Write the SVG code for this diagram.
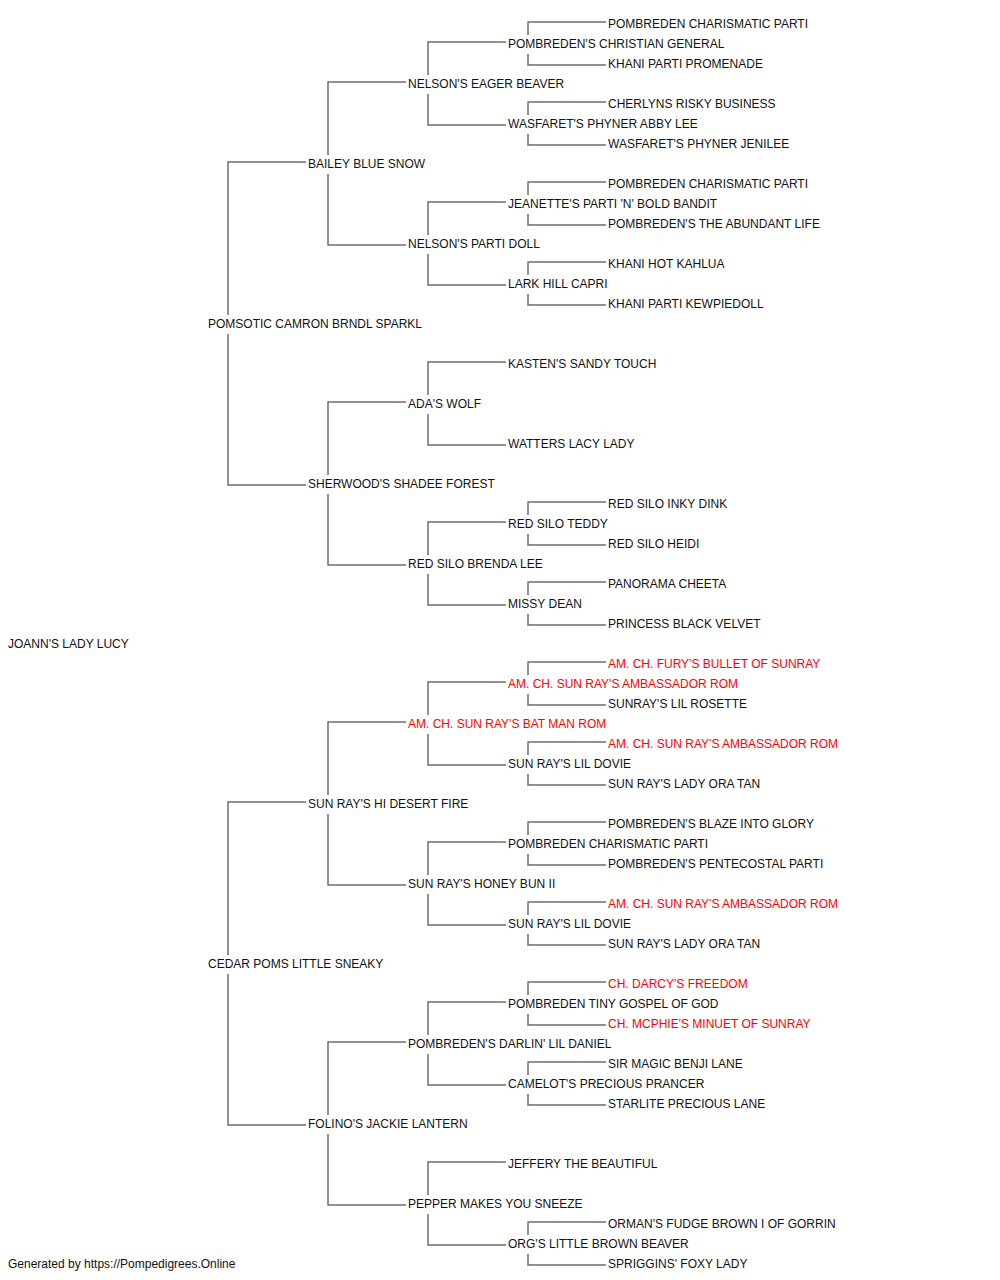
<svg xmlns="http://www.w3.org/2000/svg" width="1000" height="1280" viewBox="0 0 1000 1280">
<style>
text{font-family:"Liberation Sans",Arial,sans-serif;font-size:12px;fill:#111}
text.ch{fill:#ff0000}
.c path{fill:none;stroke:#6e6e6e;stroke-width:1.5}
</style>
<rect width="1000" height="1280" fill="#fff"/>
<g class="c" id="connectors">
<path d="M228 315V162H306M228 334V485H306"/>
<path d="M228 955V802H306M228 974V1125H306"/>
<path d="M328 155V82H406M328 174V245H406"/>
<path d="M328 475V402H406M328 494V565H406"/>
<path d="M328 795V722H406M328 814V885H406"/>
<path d="M328 1115V1042H406M328 1134V1205H406"/>
<path d="M428 75V42H506M428 94V125H506"/>
<path d="M428 235V202H506M428 254V285H506"/>
<path d="M428 395V362H506M428 414V445H506"/>
<path d="M428 555V522H506M428 574V605H506"/>
<path d="M428 715V682H506M428 734V765H506"/>
<path d="M428 875V842H506M428 894V925H506"/>
<path d="M428 1035V1002H506M428 1054V1085H506"/>
<path d="M428 1195V1162H506M428 1214V1245H506"/>
<path d="M528 35V22H606M528 54V65H606"/>
<path d="M528 115V102H606M528 134V145H606"/>
<path d="M528 195V182H606M528 214V225H606"/>
<path d="M528 275V262H606M528 294V305H606"/>
<path d="M528 515V502H606M528 534V545H606"/>
<path d="M528 595V582H606M528 614V625H606"/>
<path d="M528 675V662H606M528 694V705H606"/>
<path d="M528 755V742H606M528 774V785H606"/>
<path d="M528 835V822H606M528 854V865H606"/>
<path d="M528 915V902H606M528 934V945H606"/>
<path d="M528 995V982H606M528 1014V1025H606"/>
<path d="M528 1075V1062H606M528 1094V1105H606"/>
<path d="M528 1235V1222H606M528 1254V1265H606"/>
</g>
<g id="n0"><text x="8" y="648">JOANN'S LADY LUCY</text></g>
<g id="n1a"><text x="208" y="328">POMSOTIC CAMRON BRNDL SPARKL</text></g>
<g id="n1b"><text x="208" y="968">CEDAR POMS LITTLE SNEAKY</text></g>
<g id="n2a"><text x="308" y="168">BAILEY BLUE SNOW</text></g>
<g id="n2b"><text x="308" y="488">SHERWOOD'S SHADEE FOREST</text></g>
<g id="n2c"><text x="308" y="808">SUN RAY'S HI DESERT FIRE</text></g>
<g id="n2d"><text x="308" y="1128">FOLINO'S JACKIE LANTERN</text></g>
<g id="n3a"><text x="408" y="88">NELSON'S EAGER BEAVER</text></g>
<g id="n3b"><text x="408" y="248">NELSON'S PARTI DOLL</text></g>
<g id="n3c"><text x="408" y="408">ADA'S WOLF</text></g>
<g id="n3d"><text x="408" y="568">RED SILO BRENDA LEE</text></g>
<g id="n3e"><text class="ch" x="408" y="728">AM. CH. SUN RAY'S BAT MAN ROM</text></g>
<g id="n3f"><text x="408" y="888">SUN RAY'S HONEY BUN II</text></g>
<g id="n3g"><text x="408" y="1048">POMBREDEN'S DARLIN' LIL DANIEL</text></g>
<g id="n3h"><text x="408" y="1208">PEPPER MAKES YOU SNEEZE</text></g>
<g id="n4a"><text x="508" y="48">POMBREDEN'S CHRISTIAN GENERAL</text></g>
<g id="n4b"><text x="508" y="128">WASFARET'S PHYNER ABBY LEE</text></g>
<g id="n4c"><text x="508" y="208">JEANETTE'S PARTI 'N' BOLD BANDIT</text></g>
<g id="n4d"><text x="508" y="288">LARK HILL CAPRI</text></g>
<g id="n4e"><text x="508" y="368">KASTEN'S SANDY TOUCH</text></g>
<g id="n4f"><text x="508" y="448">WATTERS LACY LADY</text></g>
<g id="n4g"><text x="508" y="528">RED SILO TEDDY</text></g>
<g id="n4h"><text x="508" y="608">MISSY DEAN</text></g>
<g id="n4i"><text class="ch" x="508" y="688">AM. CH. SUN RAY'S AMBASSADOR ROM</text></g>
<g id="n4j"><text x="508" y="768">SUN RAY'S LIL DOVIE</text></g>
<g id="n4k"><text x="508" y="848">POMBREDEN CHARISMATIC PARTI</text></g>
<g id="n4l"><text x="508" y="928">SUN RAY'S LIL DOVIE</text></g>
<g id="n4m"><text x="508" y="1008">POMBREDEN TINY GOSPEL OF GOD</text></g>
<g id="n4n"><text x="508" y="1088">CAMELOT'S PRECIOUS PRANCER</text></g>
<g id="n4o"><text x="508" y="1168">JEFFERY THE BEAUTIFUL</text></g>
<g id="n4p"><text x="508" y="1248">ORG'S LITTLE BROWN BEAVER</text></g>
<g id="n5a"><text x="608" y="28">POMBREDEN CHARISMATIC PARTI</text></g>
<g id="n5b"><text x="608" y="68">KHANI PARTI PROMENADE</text></g>
<g id="n5c"><text x="608" y="108">CHERLYNS RISKY BUSINESS</text></g>
<g id="n5d"><text x="608" y="148">WASFARET'S PHYNER JENILEE</text></g>
<g id="n5e"><text x="608" y="188">POMBREDEN CHARISMATIC PARTI</text></g>
<g id="n5f"><text x="608" y="228">POMBREDEN'S THE ABUNDANT LIFE</text></g>
<g id="n5g"><text x="608" y="268">KHANI HOT KAHLUA</text></g>
<g id="n5h"><text x="608" y="308">KHANI PARTI KEWPIEDOLL</text></g>
<g id="n5m"><text x="608" y="508">RED SILO INKY DINK</text></g>
<g id="n5n"><text x="608" y="548">RED SILO HEIDI</text></g>
<g id="n5o"><text x="608" y="588">PANORAMA CHEETA</text></g>
<g id="n5p"><text x="608" y="628">PRINCESS BLACK VELVET</text></g>
<g id="n5q"><text class="ch" x="608" y="668">AM. CH. FURY'S BULLET OF SUNRAY</text></g>
<g id="n5r"><text x="608" y="708">SUNRAY'S LIL ROSETTE</text></g>
<g id="n5s"><text class="ch" x="608" y="748">AM. CH. SUN RAY'S AMBASSADOR ROM</text></g>
<g id="n5t"><text x="608" y="788">SUN RAY'S LADY ORA TAN</text></g>
<g id="n5u"><text x="608" y="828">POMBREDEN'S BLAZE INTO GLORY</text></g>
<g id="n5v"><text x="608" y="868">POMBREDEN'S PENTECOSTAL PARTI</text></g>
<g id="n5w"><text class="ch" x="608" y="908">AM. CH. SUN RAY'S AMBASSADOR ROM</text></g>
<g id="n5x"><text x="608" y="948">SUN RAY'S LADY ORA TAN</text></g>
<g id="n5y"><text class="ch" x="608" y="988">CH. DARCY'S FREEDOM</text></g>
<g id="n5z"><text class="ch" x="608" y="1028">CH. MCPHIE'S MINUET OF SUNRAY</text></g>
<g id="n5aa"><text x="608" y="1068">SIR MAGIC BENJI LANE</text></g>
<g id="n5ab"><text x="608" y="1108">STARLITE PRECIOUS LANE</text></g>
<g id="n5ae"><text x="608" y="1228">ORMAN'S FUDGE BROWN I OF GORRIN</text></g>
<g id="n5af"><text x="608" y="1268">SPRIGGINS' FOXY LADY</text></g>
<text x="8" y="1268">Generated by https://Pompedigrees.Online</text>
</svg>
